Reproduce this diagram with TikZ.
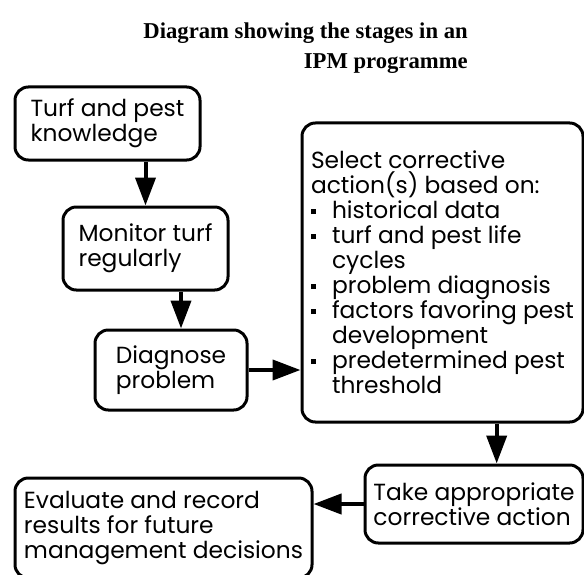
\documentclass[tikz,border=0pt]{standalone}
\usepackage{fontspec}
\setmainfont{Liberation Serif}
\newfontfamily\boxfont{Poppins}
\usetikzlibrary{arrows.meta}

\newcommand{\bul}{\makebox[0.9em][l]{\rule[0.2em]{0.22em}{0.22em}}}
\newcommand{\ind}{\hspace*{0.9em}}

\begin{document}
\begin{tikzpicture}[x=0.75pt,y=0.75pt,yscale=-1,xscale=1,
    stage/.style={draw, line width=2.25pt, rounded corners=10pt, align=left,
        inner sep=0pt, font=\boxfont\fontsize{17.5}{18.75}\selectfont},
    flow/.style={line width=3pt, -{Triangle[length=21pt,width=15pt]}}]

            \useasboundingbox (0,0) rectangle (584,574);

            % Title
            \node (title) [anchor=north east, inner sep=0pt, align=right, font=\fontsize{17}{22.5}\selectfont\bfseries] at (468,23) {Diagram showing the stages in an\\IPM programme};

            % Stages
            \node (turf) [stage, minimum width=138.75pt, minimum height=54.75pt] at (107.5,123.5) {Turf and pest\\knowledge};
            \node (monitor) [stage, minimum width=123.75pt, minimum height=62.25pt] at (145.5,248.5) {Monitor turf\\regularly};
            \node (diagnose) [stage, minimum width=114pt, minimum height=60pt] at (171,370) {Diagnose\\problem};
            \node (select) [stage, minimum width=210.75pt, minimum height=224.25pt] at (442.5,272.5) {Select corrective\\action(s) based on:\\\bul historical data\\\bul turf and pest life\\\ind cycles\\\bul problem diagnosis\\\bul factors favoring pest\\\ind development\\\bul predetermined pest\\\ind threshold};
            \node (take) [stage, minimum width=163.5pt, minimum height=58.5pt] at (474,504) {Take appropriate\\corrective action};
            \node (evaluate) [stage, minimum width=222.75pt, minimum height=75pt] at (163.5,528) {Evaluate and record\\results for future\\management decisions};

            % Arrows
            \coordinate (diagtop) at ([xshift=7.5pt]diagnose.north);
            \coordinate (taketop) at ([xshift=17pt]take.north);
            \draw[flow] (turf.south -| monitor.north) -- (monitor.north);
            \draw[flow] (monitor.south -| diagtop) -- (diagtop);
            \draw[flow] (diagnose.east) -- (diagnose.east -| select.west);
            \draw[flow] (select.south -| taketop) -- (taketop);
            \draw[flow] (take.west) -- (take.west -| evaluate.east);

\end{tikzpicture}
\end{document}
